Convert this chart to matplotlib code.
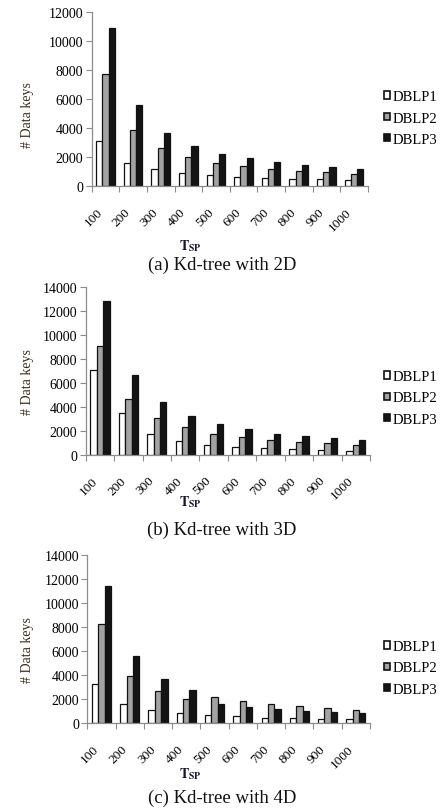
import matplotlib
matplotlib.use("Agg")
import matplotlib.pyplot as plt
import numpy as np
from matplotlib.patches import Patch

plt.rcParams['font.family'] = ['Liberation Serif', 'DejaVu Serif']

thresholds = ["100", "200", "300", "400", "500", "600", "700", "800", "900", "1000"]
series_names = ["DBLP1", "DBLP2", "DBLP3"]

# Kd-tree with 2D
dblp1_2d = [3100, 1600, 1150, 900, 750, 650, 550, 500, 450, 400]
dblp2_2d = [7750, 3900, 2650, 2000, 1600, 1400, 1200, 1050, 950, 850]
dblp3_2d = [10900, 5600, 3650, 2750, 2200, 1900, 1650, 1450, 1300, 1200]

# Kd-tree with 3D
dblp1_3d = [7100, 3500, 1700, 1150, 850, 650, 550, 450, 400, 300]
dblp2_3d = [9100, 4650, 3050, 2300, 1750, 1450, 1250, 1050, 950, 800]
dblp3_3d = [12850, 6650, 4400, 3250, 2600, 2150, 1750, 1550, 1400, 1200]

# Kd-tree with 4D
dblp1_4d = [3250, 1600, 1100, 800, 650, 550, 450, 400, 350, 300]
dblp2_4d = [8250, 3950, 2650, 2000, 2200, 1850, 1600, 1400, 1250, 1100]
dblp3_4d = [11400, 5600, 3650, 2750, 1600, 1350, 1150, 1000, 900, 800]

captions = ["(a) Kd-tree with 2D", "(b) Kd-tree with 3D", "(c) Kd-tree with 4D"]
y_max = [12000, 14000, 14000]

panels = [
    (dblp1_2d, dblp2_2d, dblp3_2d),
    (dblp1_3d, dblp2_3d, dblp3_3d),
    (dblp1_4d, dblp2_4d, dblp3_4d),
]

W, H = 444, 812
fig = plt.figure(figsize=(W / 100, H / 100), dpi=100)

# axes boxes in pixels: left, right, top, bottom
boxes = [
    (91.7, 367.7, 13.3, 187.0),
    (85.7, 370.0, 288.3, 455.7),
    (87.3, 370.0, 555.7, 724.0),
]
legend_y = [119, 399, 669]
ylabel_y = [115, 382, 650]
tsp_y = [246, 502, 774]
caption_y = [265, 530, 798]

fills = ["#ffffff", "#a3a3a3", "#141414"]
spine_col = "#8c8c8c"
bw = 0.225

for k, (vals, cap, ymax) in enumerate(zip(panels, captions, y_max)):
    l, r, t, b = boxes[k]
    ax = fig.add_axes([l / W, 1 - b / H, (r - l) / W, (b - t) / H])
    x = np.arange(len(thresholds))
    for j, v in enumerate(vals):
        ax.bar(x + (j - 1) * bw, v, width=bw, color=fills[j],
               edgecolor="#111111", linewidth=0.9, zorder=2)
    ax.set_xlim(-0.5, len(thresholds) - 0.5)
    ax.set_ylim(0, ymax)
    ax.set_yticks(np.arange(0, ymax + 1, 2000))
    ax.tick_params(axis="y", length=4, width=0.8, color=spine_col,
                   labelsize=10, pad=2)
    ax.set_xticks(x)
    ax.set_xticklabels(thresholds, rotation=45, ha="right", fontsize=9.5)
    ax.tick_params(axis="x", which="major", length=0, pad=14)
    ax.set_xticks(np.arange(-0.5, len(thresholds)), minor=True)
    ax.tick_params(axis="x", which="minor", length=4, width=0.8,
                   color=spine_col)
    for s in ("top", "right"):
        ax.spines[s].set_visible(False)
    for s in ("left", "bottom"):
        ax.spines[s].set_color(spine_col)
        ax.spines[s].set_linewidth(0.9)

    fig.text(27 / W, 1 - ylabel_y[k] / H, "# Data keys", rotation=90,
             ha="center", va="center", fontsize=10, color="#3a2e1c")
    fig.text(190 / W, 1 - tsp_y[k] / H, r"$\mathbf{T}_{\mathbf{SP}}$",
             ha="center", va="center", fontsize=10, color="#15152e",
             math_fontfamily="stix")
    fig.text(222 / W, 1 - caption_y[k] / H, cap, ha="center", va="center",
             fontsize=13.5, color="#111111")

    handles = [Patch(facecolor=fills[j], edgecolor="#111111", linewidth=1.2)
               for j in range(3)]
    fig.legend(handles, series_names, loc="center left",
               bbox_to_anchor=(377 / W, 1 - legend_y[k] / H), frameon=False,
               fontsize=10.5, handlelength=0.42, handleheight=0.42,
               handletextpad=0.15, labelspacing=0.55, borderpad=0)

fig.savefig("out.png", dpi=100, facecolor="white")
